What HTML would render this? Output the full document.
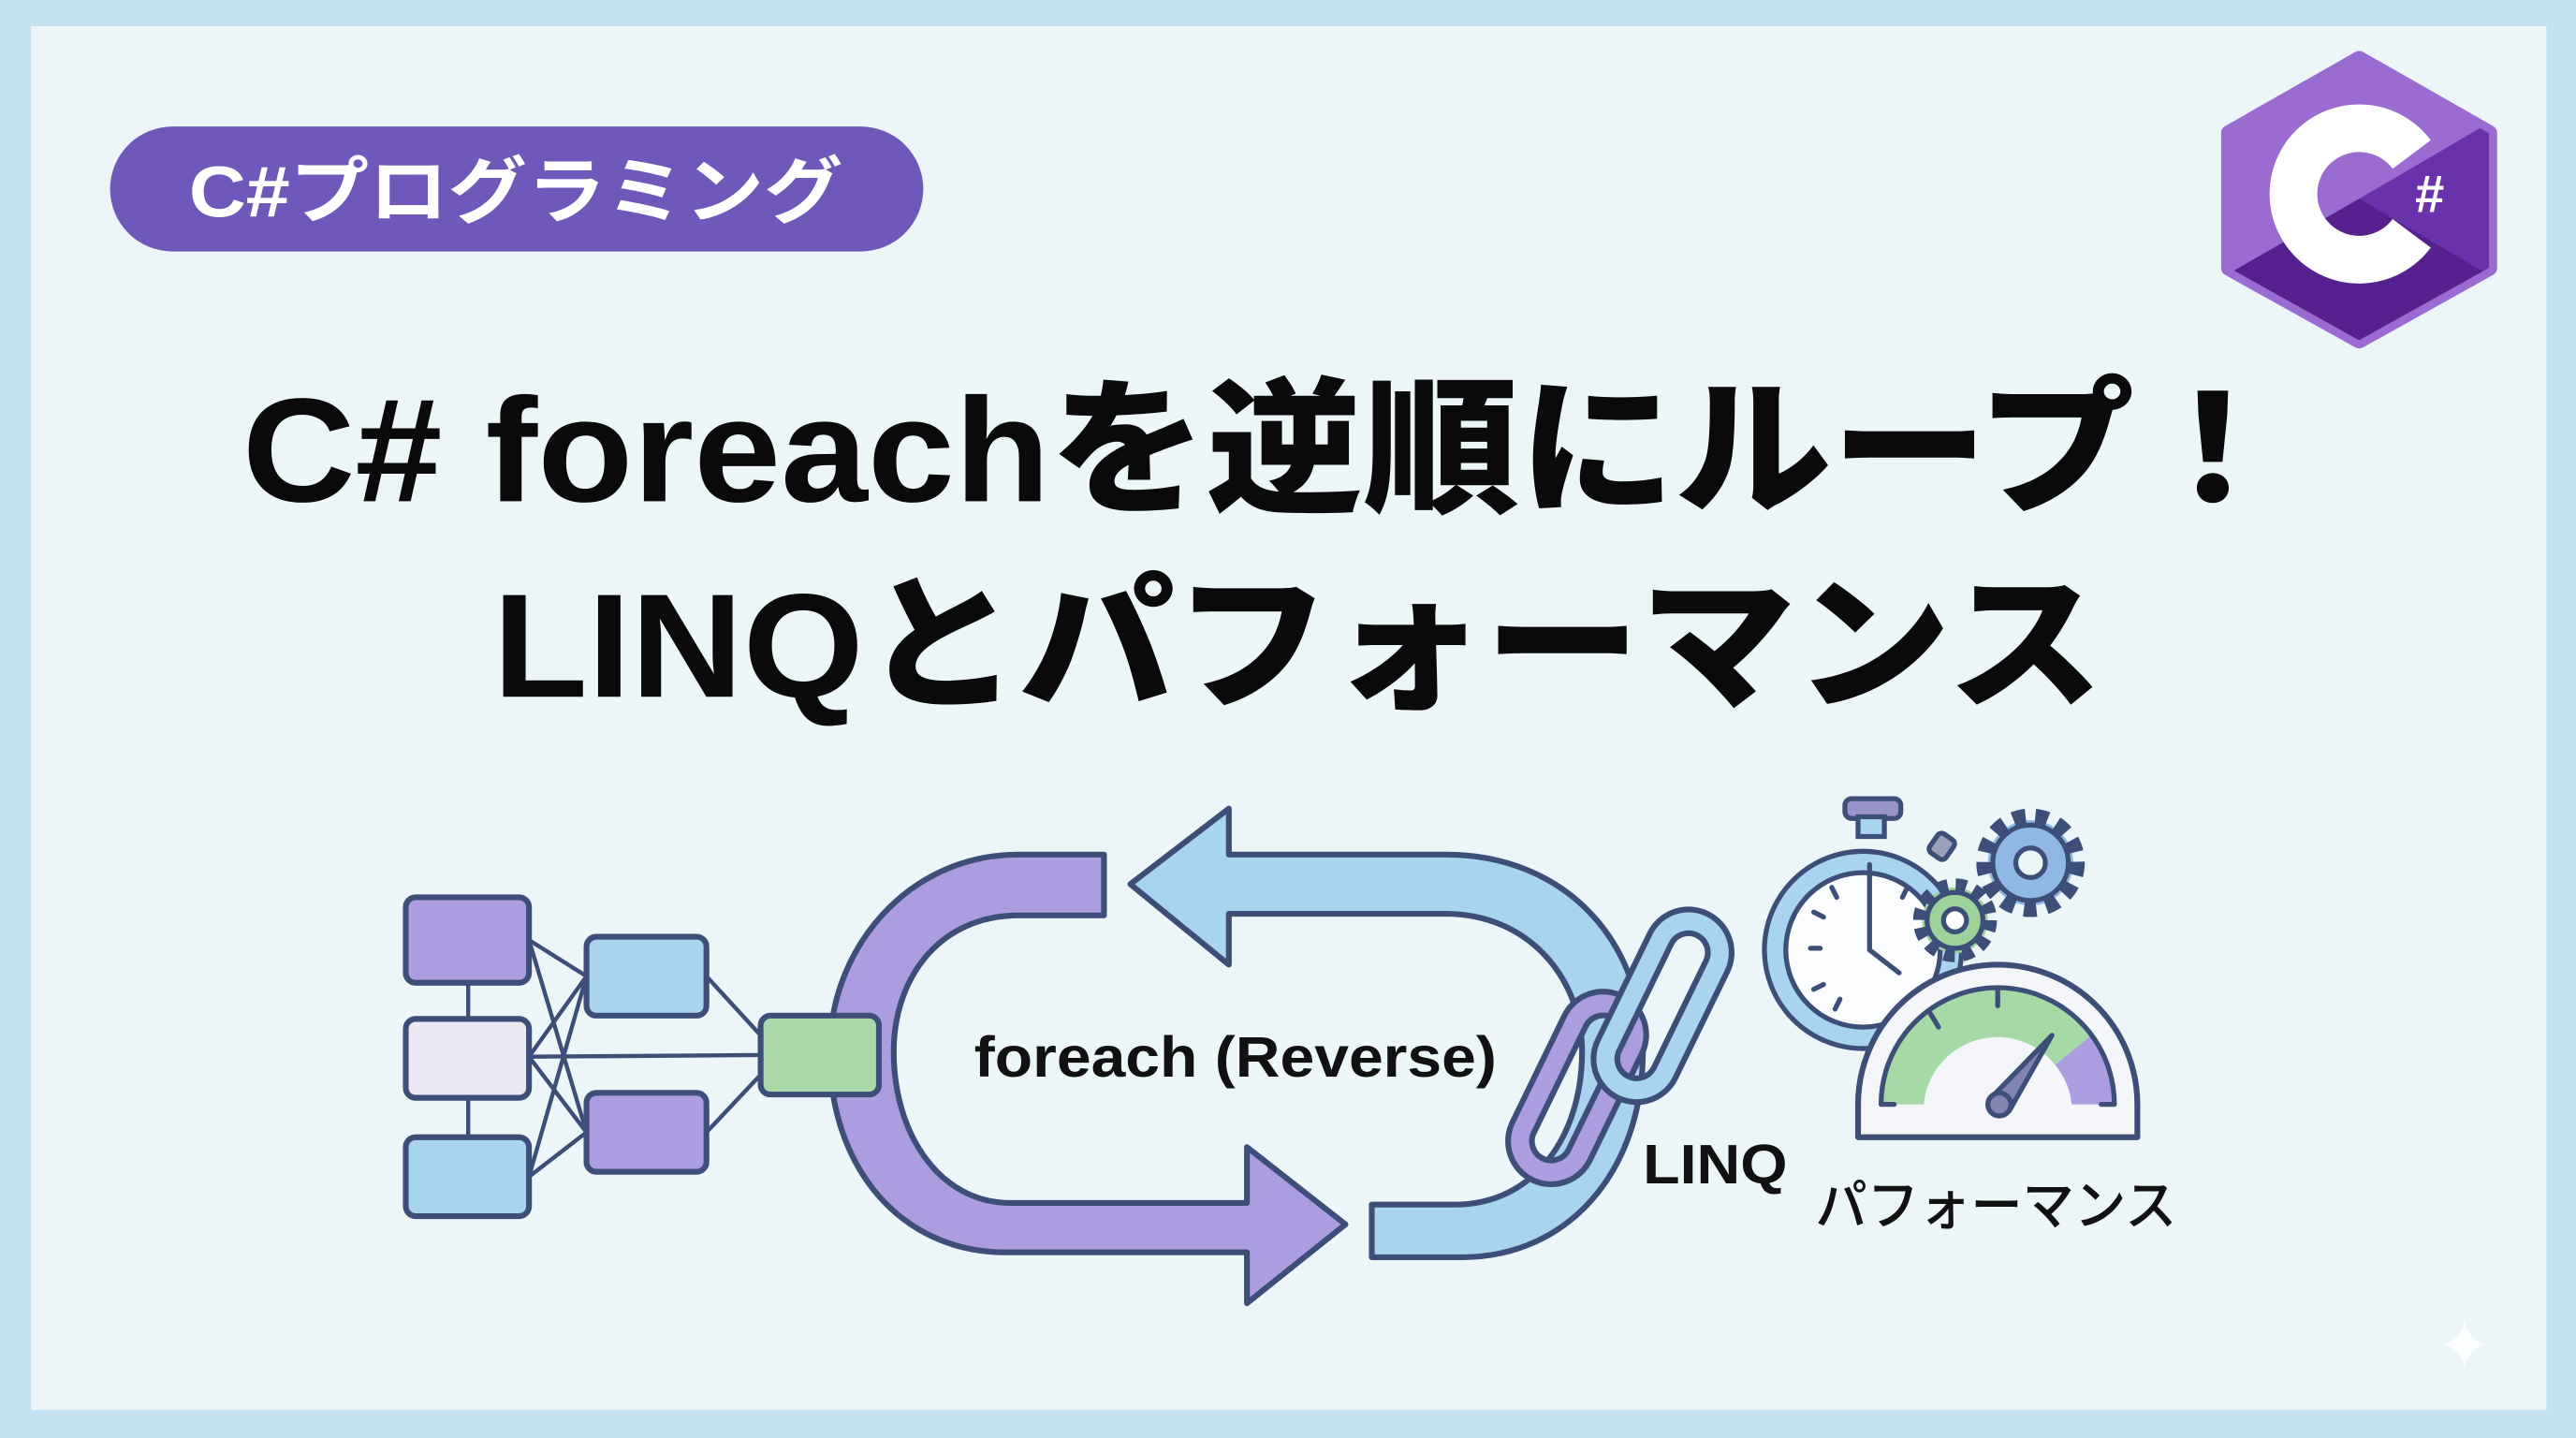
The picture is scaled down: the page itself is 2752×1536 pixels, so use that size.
<!DOCTYPE html>
<html><head><meta charset="utf-8"><style>
html,body{margin:0;padding:0;width:2752px;height:1536px;overflow:hidden;background:#c5e2f3}
svg{display:block}
</style></head><body>
<svg width="2752" height="1536" viewBox="0 0 1568 875" preserveAspectRatio="none" xmlns="http://www.w3.org/2000/svg">
<defs>
<clipPath id="hexc"><polygon points="1436,36 1515,81 1515,163 1436,207 1357,163 1357,81"/></clipPath>
</defs>
<rect x="0" y="0" width="1568" height="875" fill="#c5e2f3"/>
<rect x="19" y="16" width="1531" height="842" fill="#ecf6f9"/>

<rect x="67" y="77" width="495" height="76" rx="38" fill="#7058ba"/>
<text x="314" y="132" text-anchor="middle" font-family="'Liberation Sans','Noto Sans CJK JP',sans-serif" font-weight="bold" font-size="44" fill="#fff" textLength="398" lengthAdjust="spacingAndGlyphs">C#プログラミング</text>

<polygon points="1436,36 1515,81 1515,163 1436,207 1357,163 1357,81" fill="#9a6bd0" stroke="#9a6bd0" stroke-width="10" stroke-linejoin="round"/>
<g clip-path="url(#hexc)">
<polygon points="1340,176 1436,121 1530,66 1530,240 1340,240" fill="#6a32aa"/>
<polygon points="1340,176 1436,121 1530,176 1530,240 1340,240" fill="#57208f"/>
</g>
<path d="M1468,94 A40,40 0 1 0 1468,142" fill="none" stroke="#fff" stroke-width="29"/>
<text x="1479" y="129" text-anchor="middle" font-family="'Liberation Sans',sans-serif" font-weight="bold" font-size="32" fill="#fff">#</text>

<text x="771" y="305" text-anchor="middle" font-family="'Liberation Sans','Noto Sans CJK JP',sans-serif" font-weight="900" font-size="90" fill="#0a0a0a" textLength="1247" lengthAdjust="spacingAndGlyphs">C# foreachを逆順にループ！</text>
<text x="790" y="424" text-anchor="middle" font-family="'Liberation Sans','Noto Sans CJK JP',sans-serif" font-weight="900" font-size="90" fill="#0a0a0a" textLength="980" lengthAdjust="spacingAndGlyphs">LINQとパフォーマンス</text>

<g stroke="#3d4f78" stroke-width="2.5">
<line x1="285" y1="598" x2="285" y2="692"/>
<line x1="322" y1="572" x2="357" y2="594"/><line x1="322" y1="572" x2="357" y2="689"/>
<line x1="322" y1="643" x2="357" y2="594"/><line x1="322" y1="643" x2="357" y2="689"/>
<line x1="322" y1="716" x2="357" y2="594"/><line x1="322" y1="716" x2="357" y2="689"/>
<line x1="322" y1="643" x2="463" y2="642"/>
<line x1="430" y1="594" x2="463" y2="630"/><line x1="430" y1="689" x2="463" y2="654"/>
</g>
<g stroke="#3d4f78" stroke-width="3.5">
<rect x="247" y="546" width="75" height="52" rx="6" fill="#ab9de0"/>
<rect x="247" y="620" width="75" height="48" rx="6" fill="#ece8f3"/>
<rect x="247" y="692" width="75" height="48" rx="6" fill="#a9d4ee"/>
<rect x="357" y="570" width="73" height="48" rx="6" fill="#a9d4ee"/>
<rect x="357" y="665" width="73" height="48" rx="6" fill="#ab9de0"/>
</g>

<path d="M672,520 L620,520 C552,520 505,578 505,640 C505,710 548,762 612,762 L759,762 L759,793 L819,745 L759,698 L759,732 L615,732 C572,732 544,690 544,640 C544,595 572,557 620,557 L672,557 Z" fill="#ab9de0" stroke="#3d4f78" stroke-width="3.5" stroke-linejoin="round"/>
<rect x="463" y="618" width="72" height="48" rx="6" fill="#aad8ab" stroke="#3d4f78" stroke-width="3.5"/>

<path d="M688,538 L748,492 L748,520 L880,520 C952,520 1000,572 1000,640 C1000,712 955,765 890,765 L835,765 L835,733 L885,733 C935,733 963,690 963,640 C963,595 930,556 880,556 L748,556 L748,587 Z" fill="#a9d4ee" stroke="#3d4f78" stroke-width="3.5" stroke-linejoin="round"/>

<g transform="rotate(-64 960 662)">
<rect x="905" y="643" width="110" height="38" rx="19" fill="none" stroke="#3d4f78" stroke-width="18"/>
<rect x="905" y="643" width="110" height="38" rx="19" fill="none" stroke="#ab9de0" stroke-width="11"/>
</g>
<g transform="rotate(-64 1012 612)">
<rect x="957" y="593" width="110" height="38" rx="19" fill="none" stroke="#3d4f78" stroke-width="18"/>
<rect x="957" y="593" width="110" height="38" rx="19" fill="none" stroke="#a9d4ee" stroke-width="11"/>
</g>

<text x="752" y="655" text-anchor="middle" font-family="'Liberation Sans',sans-serif" font-weight="bold" font-size="35" fill="#111" textLength="318" lengthAdjust="spacingAndGlyphs">foreach (Reverse)</text>
<text x="1000" y="720" font-family="'Liberation Sans',sans-serif" font-weight="bold" font-size="34" fill="#111" textLength="88" lengthAdjust="spacingAndGlyphs">LINQ</text>
<text x="1105" y="745" font-family="'Liberation Sans','Noto Sans CJK JP',sans-serif" font-weight="500" font-size="33" fill="#111" textLength="220" lengthAdjust="spacingAndGlyphs">パフォーマンス</text>

<g stroke="#3d4f78" stroke-width="3">
<rect x="1123" y="486" width="34" height="12" rx="4" fill="#9a95c8"/>
<rect x="1131" y="497" width="16" height="12" fill="#a9d4ee"/>
<rect x="1176" y="508" width="12" height="14" rx="3" fill="#9aa0b8" transform="rotate(35 1182 515)"/>
<circle cx="1134" cy="578" r="60" fill="#a9d4ee"/>
<circle cx="1134" cy="578" r="47" fill="#fafcfd"/>
</g>
<g stroke="#3d4f78" stroke-width="3" stroke-linecap="round">
<line x1="1138" y1="533" x2="1138" y2="578"/><line x1="1138" y1="578" x2="1156" y2="592"/>
<line x1="1138" y1="526" x2="1138" y2="533"/>
<line x1="1102" y1="577" x2="1108" y2="577"/>
<line x1="1115" y1="540" x2="1118" y2="546"/><line x1="1161" y1="540" x2="1158" y2="546"/>
<line x1="1104" y1="555" x2="1110" y2="558"/><line x1="1104" y1="602" x2="1110" y2="599"/>
<line x1="1117" y1="614" x2="1120" y2="608"/>
</g>
<g stroke="#3d4f78" stroke-width="3" stroke-linejoin="round">
<circle cx="1236" cy="525" r="26" fill="#8fb9e4" stroke-dasharray="7 5.5" stroke-width="14"/>
<circle cx="1236" cy="525" r="23" fill="#8fb9e4"/>
<circle cx="1236" cy="525" r="9" fill="#ecf6f9"/>
<circle cx="1190" cy="560" r="20" fill="#9dd39a" stroke-dasharray="6 4.5" stroke-width="11"/>
<circle cx="1190" cy="560" r="17" fill="#9dd39a"/>
<circle cx="1190" cy="560" r="7" fill="#fff"/>
</g>
<path d="M1131,692 L1131,672 A85,85 0 0 1 1301,672 L1301,692 Z" fill="#f4f5f9" stroke="#3d4f78" stroke-width="3.5" stroke-linejoin="round"/>
<path d="M1145,672 A71,71 0 0 1 1273,630 L1251,648 A45,45 0 0 0 1171,672 Z" fill="#a6d9a5"/>
<path d="M1273,630 A71,71 0 0 1 1287,672 L1261,672 A45,45 0 0 0 1251,648 Z" fill="#ab9de0"/>
<path d="M1145,672 A71,71 0 0 1 1287,672" fill="none" stroke="#3d4f78" stroke-width="3"/>
<g stroke="#3d4f78" stroke-width="3" stroke-linecap="round">
<line x1="1145" y1="672" x2="1153" y2="672"/><line x1="1279" y1="672" x2="1287" y2="672"/>
<line x1="1216" y1="601" x2="1216" y2="612"/><line x1="1174" y1="615" x2="1180" y2="625"/>
</g>
<path d="M1211,669 L1249,630 L1223,676 Z" fill="#8186b0" stroke="#3d4f78" stroke-width="3" stroke-linejoin="round"/>
<circle cx="1217" cy="672" r="7" fill="#8186b0" stroke="#3d4f78" stroke-width="3"/>

<path d="M1500,803 Q1502,816 1514,818 Q1502,820 1500,833 Q1498,820 1486,818 Q1498,816 1500,803 Z" fill="#ffffff" opacity="0.8"/>
</svg>
</body></html>
